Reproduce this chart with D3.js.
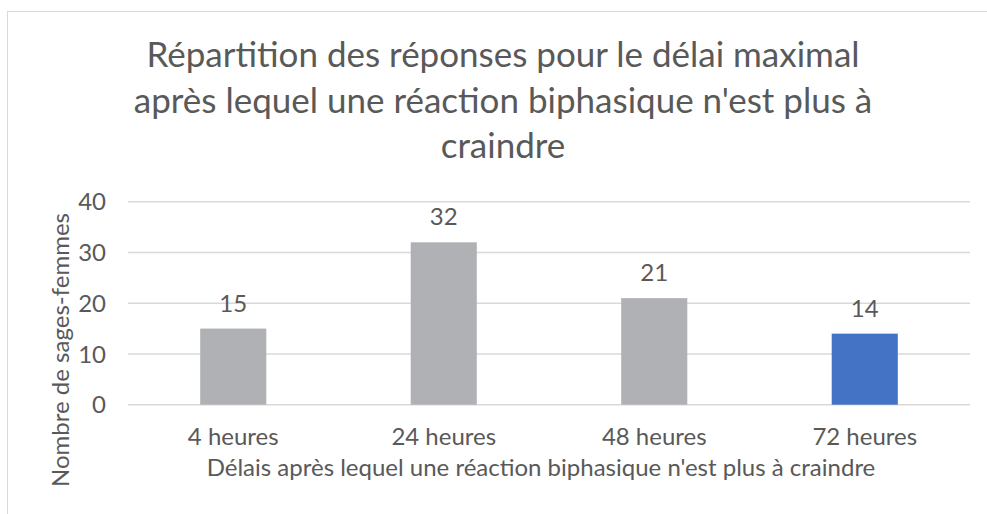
<!DOCTYPE html>
<html>
<head>
<meta charset="utf-8">
<script src="https://cdn.jsdelivr.net/npm/d3@7"></script>
<style>
  html, body { margin: 0; padding: 0; background: #fff; }
  svg { display: block; font-family: Lato, "Open Sans", sans-serif; }
</style>
</head>
<body>
<svg width="987" height="514"></svg>
<script>
// Données
const categories = ["4 heures", "24 heures", "48 heures", "72 heures"];
const values = [15, 32, 21, 14];
const yTicks = [0, 10, 20, 30, 40];
const titleLines = [
  "Répartition des réponses pour le délai maximal",
  "après lequel une réaction biphasique n'est plus à",
  "craindre"
];
const xTitle = "Délais après lequel une réaction biphasique n'est plus à craindre";
const yTitle = "Nombre de sages-femmes";

const svg = d3.select("svg");
const grey = "#595959";
const fs = 24; // taille texte axes

// cadre du graphique
svg.append("rect")
  .attr("x", 7.5).attr("y", 11.5)
  .attr("width", 1000).attr("height", 520)
  .attr("fill", "#fff")
  .attr("stroke", "#d9d9d9");

// Echelles
const x = d3.scaleBand()
  .domain(categories)
  .range([128, 970])
  .paddingInner(0.686)
  .paddingOuter(0.343);

const y = d3.scaleLinear()
  .domain([0, 40])
  .range([404.7, 201.7]);

// grille
svg.append("g")
  .selectAll("line")
  .data(yTicks)
  .join("line")
  .attr("x1", 128).attr("x2", 970)
  .attr("y1", d => y(d)).attr("y2", d => y(d))
  .attr("stroke", "#d9d9d9")
  .attr("stroke-width", 1.5);

// labels axe y
svg.append("g")
  .selectAll("text")
  .data(yTicks)
  .join("text")
  .attr("x", 106)
  .attr("y", d => y(d))
  .attr("dy", "0.36em")
  .attr("text-anchor", "end")
  .attr("font-size", fs)
  .attr("fill", grey)
  .text(d => d);

// barres
svg.append("g")
  .selectAll("rect")
  .data(values)
  .join("rect")
  .attr("x", (d, i) => x(categories[i]))
  .attr("y", d => y(d))
  .attr("width", x.bandwidth())
  .attr("height", d => y(0) - y(d))
  .attr("fill", (d, i) => i === 3 ? "#4472c4" : "#b0b1b4");

// étiquettes de données
svg.append("g")
  .selectAll("text")
  .data(values)
  .join("text")
  .attr("x", (d, i) => x(categories[i]) + x.bandwidth() / 2)
  .attr("y", d => y(d) - 17)
  .attr("text-anchor", "middle")
  .attr("font-size", fs)
  .attr("fill", grey)
  .text(d => d);

// catégories
svg.append("g")
  .selectAll("text")
  .data(categories)
  .join("text")
  .attr("x", d => x(d) + x.bandwidth() / 2)
  .attr("y", 445)
  .attr("text-anchor", "middle")
  .attr("font-size", fs)
  .attr("fill", grey)
  .text(d => d);

// titre
svg.append("g")
  .selectAll("text")
  .data(titleLines)
  .join("text")
  .attr("x", 503)
  .attr("y", (d, i) => 67 + i * 45.5)
  .attr("text-anchor", "middle")
  .attr("font-size", 35)
  .attr("fill", grey)
  .text(d => d);

// titre axe x
svg.append("text")
  .attr("x", 541)
  .attr("y", 476)
  .attr("text-anchor", "middle")
  .attr("font-size", fs)
  .attr("fill", grey)
  .text(xTitle);

// titre axe y
svg.append("text")
  .attr("transform", "translate(69,350) rotate(-90)")
  .attr("text-anchor", "middle")
  .attr("font-size", fs)
  .attr("fill", grey)
  .text(yTitle);
</script>
</body>
</html>
